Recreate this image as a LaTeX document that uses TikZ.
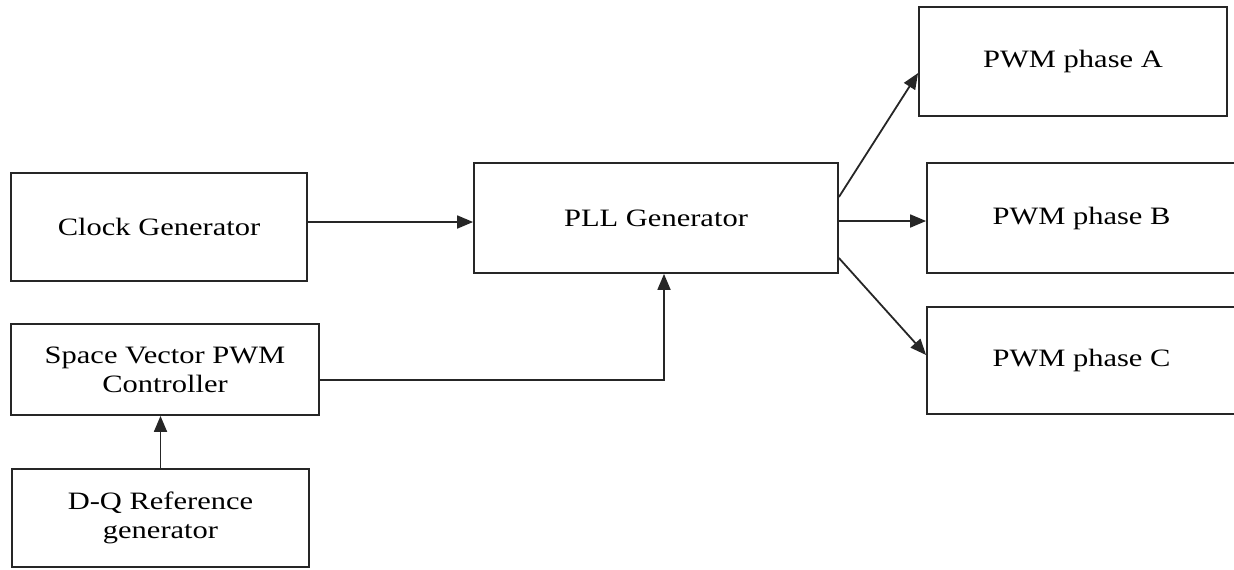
\documentclass[tikz,border=0pt]{standalone}
\usepackage{fontspec}
\setmainfont[FakeStretch=1.22]{Liberation Serif}
\usetikzlibrary{arrows.meta,calc}
\begin{document}
\begin{tikzpicture}[x=0.5pt,y=-0.5pt,
  blk/.style={draw=black!85, line width=0.9pt, inner sep=0pt, align=center,
    font=\fontsize{12.5pt}{14.5pt}\selectfont},
  conn/.style={draw=black!85, line width=0.9pt},
  arr/.style={conn, -{Triangle[length=8pt,width=6.5pt]}}]
\useasboundingbox (0,0) rectangle (1234,569);
\node[blk, minimum width=148pt, minimum height=54pt] (clock) at (159,227) {Clock Generator};
\node[blk, minimum width=154pt, minimum height=45.5pt] (svpwm) at (165,369.5) {Space Vector PWM\\Controller};
\node[blk, minimum width=148.5pt, minimum height=49pt] (dq) at (160.5,518) {D-Q Reference\\generator};
\node[blk, minimum width=182pt, minimum height=55pt] (pll) at (656,218) {PLL Generator};
\node[blk, minimum width=154pt, minimum height=54.5pt] (pa) at (1073,61.5) {PWM phase A};
\node[blk, minimum width=154.5pt, minimum height=55pt] (pb) at (1081.5,218) {PWM phase B};
\node[blk, minimum width=154.5pt, minimum height=53.5pt] (pc) at (1081.5,360.5) {PWM phase C};

\draw[arr] ($(clock.east)+(0,-5)$) -- ($(pll.west)+(0,4)$);
\draw[arr] (dq.north) -- (dq.north |- svpwm.south);
\draw[arr] ($(svpwm.east)+(0,10.5)$) -| ($(pll.south)+(8,0)$);
\draw[arr] ($(pll.east)+(0,-21)$) -- ($(pa.west)+(0,11.5)$);
\draw[arr] ($(pll.east)+(0,3)$) -- ($(pb.west)+(0,3)$);
\draw[arr] ($(pll.east)+(0,40)$) -- ($(pc.west)+(0,-5.5)$);
\end{tikzpicture}
\end{document}
